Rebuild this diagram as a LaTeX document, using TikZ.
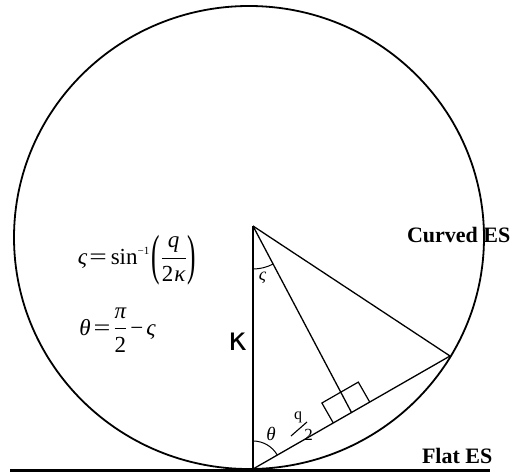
\documentclass[tikz,border=0pt]{standalone}
\usepackage{amsmath}
\usepackage{graphicx}
\usepackage{fontspec}
\setmainfont{Liberation Serif}
\newfontfamily\kapfont{DejaVu Sans}
\usetikzlibrary{calc}
\tikzset{
  geo/.style={line width=1.3pt},
  arcline/.style={line width=1pt},
  lbl/.style={inner sep=0pt, outer sep=0pt},
}
\newcommand{\tallparen}[1]{\raisebox{-9pt}{\scalebox{1.1}[2.4]{#1}}}
\begin{document}
\begin{tikzpicture}[x=1pt,y=1pt]
\useasboundingbox (0,0) rectangle (511,475);
% points
\coordinate (A) at (253,249);
\coordinate (B) at (253,6);
\coordinate (P) at (450,119);
\coordinate (M) at (351.5,62.5);
\coordinate (L) at (10,4.5);
\coordinate (R) at (490,4.5);
% circle (curved ES)
\draw[line width=1.8pt] (249,237.5) ellipse [x radius=235, y radius=231.5];
% flat ES
\draw[line width=2.6pt] (L) -- (R);
% triangle
\draw[geo] (A) -- (B);
\draw[geo] (A) -- (P);
\draw[geo] (B) -- (P);
\draw[geo] (A) -- (M);
% right-angle box
\draw[line width=1.2pt] (333.3,52.05) -- (321.9,72.0) -- (358.3,92.9) -- (369.7,72.95);
% angle arcs
\draw[arcline] ($(A)+(270:43)$) arc (270:297.8:43);
\draw[arcline] ($(B)+(90:28)$) arc (90:29.85:28);
% labels
\node[lbl] (vs) at (262.5,197) {\fontsize{18}{20}\selectfont\itshape ς};
\node[lbl] (th) at (271,41) {\fontsize{19}{20}\selectfont\itshape θ};
\node[lbl] (kap) at (237.5,133) {\kapfont\fontsize{32}{36}\selectfont κ};
\node[lbl] (qq) at (298,57.5) {\fontsize{16}{18}\selectfont q};
\node[lbl] (two) at (308.5,40.5) {\fontsize{17}{18}\selectfont 2};
\coordinate (s1) at (291,39);
\coordinate (s2) at (307,53);
\draw[line width=1.1pt] (s1) -- (s2);
\node[lbl, anchor=base west] (cur) at (407,232.3) {\fontsize{22}{24}\selectfont\bfseries Curved ES};
\node[lbl, anchor=base west] (flat) at (422,11.7) {\fontsize{22}{24}\selectfont\bfseries Flat ES};
\node[lbl] (eq1) at (137,215) {\fontsize{23}{26}\selectfont\textit{ς}\kern2pt\scalebox{1.35}[1]{=}\kern4pt sin\raisebox{10pt}{\fontsize{11}{12}\selectfont −1}\kern2pt\tallparen{(}\kern1pt$\dfrac{\text{\itshape q}}{\text{2\kern1pt\itshape κ}}$\kern1pt\tallparen{)}};
\node[lbl] (eq2) at (117.5,145) {\fontsize{23}{26}\selectfont\textit{θ}\kern3pt\scalebox{1.3}[1]{=}\kern3pt$\dfrac{\text{\itshape π}}{\text{2}}$\kern3pt−\kern3pt\textit{ς}};
\end{tikzpicture}
\end{document}
